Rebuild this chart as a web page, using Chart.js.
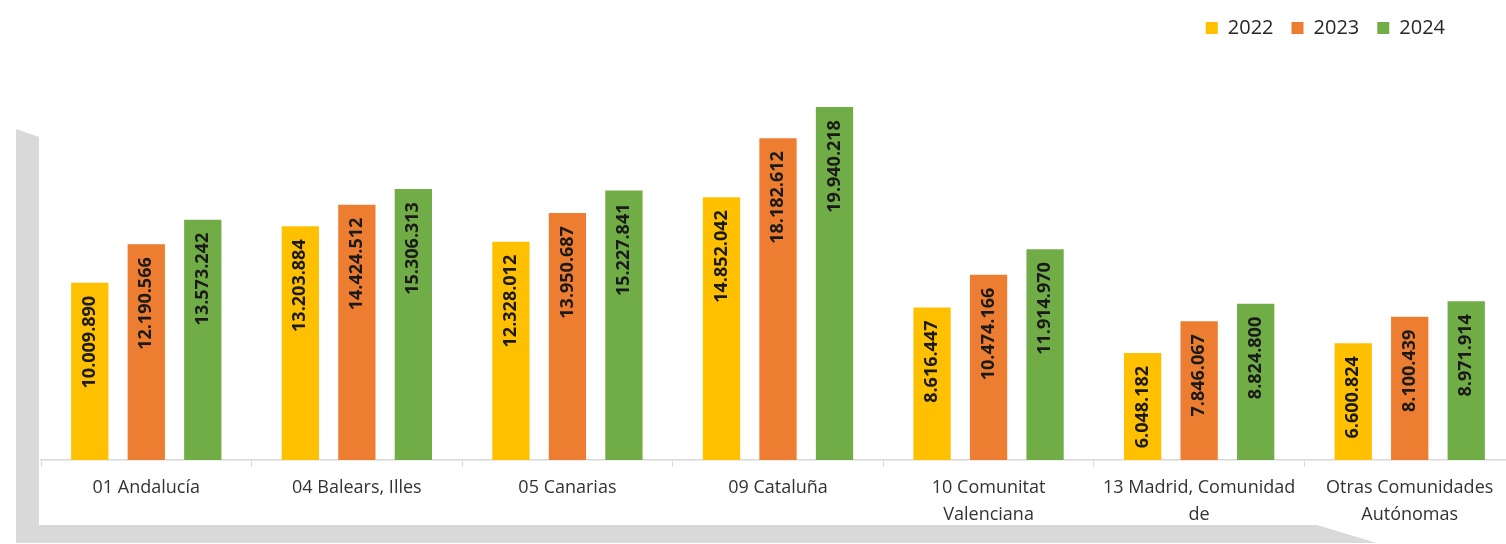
<!DOCTYPE html>
<html>
<head>
<meta charset="utf-8">
<script src="https://cdn.jsdelivr.net/npm/chart.js@4"></script>
<style>
  html, body { margin: 0; padding: 0; background: #ffffff; overflow: hidden; }
  #wrap { position: relative; width: 1506px; height: 544px; overflow: hidden; }
  #frame { position: absolute; left: 0; top: 0; width: 1506px; height: 544px; background: #d9d9d9;
    clip-path: polygon(16px 129px, 39px 137px, 39px 525px, 1317px 525px, 1377px 543px, 16px 543px); }
  #cv { position: absolute; left: 0; top: 0; }
</style>
</head>
<body>
<div id="wrap">
  <div id="frame"></div>
  <canvas id="cv" width="1516" height="544" style="width:1516px;height:544px;"></canvas>
</div>
<script>
const categories = [
  "01 Andalucía",
  "04 Balears, Illes",
  "05 Canarias",
  "09 Cataluña",
  ["10 Comunitat", "Valenciana"],
  ["13 Madrid, Comunidad", "de"],
  ["Otras Comunidades", "Autónomas"]
];
const seriesNames = ["2022", "2023", "2024"];
const values2022 = [10009890, 13203884, 12328012, 14852042, 8616447, 6048182, 6600824];
const values2023 = [12190566, 14424512, 13950687, 18182612, 10474166, 7846067, 8100439];
const values2024 = [13573242, 15306313, 15227841, 19940218, 11914970, 8824800, 8971914];
const seriesColors = ["#FFC000", "#ED7D31", "#70AD47"];
const Y_MAX = 23280000;

function fmt(v) {
  return String(Math.round(v)).replace(/\B(?=(\d{3})+(?!\d))/g, ".");
}

const valueLabels = {
  id: 'valueLabels',
  afterDatasetsDraw(chart) {
    const ctx = chart.ctx;
    ctx.save();
    ctx.font = "bold 18px 'Open Sans', 'Liberation Sans', sans-serif";
    ctx.fillStyle = "#1a1a1a";
    ctx.textAlign = "right";
    ctx.textBaseline = "middle";
    chart.data.datasets.forEach((ds, di) => {
      const meta = chart.getDatasetMeta(di);
      meta.data.forEach((el, i) => {
        ctx.save();
        ctx.translate(el.x, el.y + 13);
        ctx.rotate(-Math.PI / 2);
        ctx.fillText(fmt(ds.data[i]), 0, 0);
        ctx.restore();
      });
    });
    ctx.restore();
  }
};

const legendShift = {
  id: 'legendShift',
  afterLayout(chart) {
    if (chart.legend) { chart.legend.right -= 52; }
  }
};

new Chart(document.getElementById('cv'), {
  type: 'bar',
  data: {
    labels: categories,
    datasets: [
      { label: seriesNames[0], data: values2022, backgroundColor: seriesColors[0] },
      { label: seriesNames[1], data: values2023, backgroundColor: seriesColors[1] },
      { label: seriesNames[2], data: values2024, backgroundColor: seriesColors[2] }
    ]
  },
  options: {
    responsive: false,
    animation: false,
    devicePixelRatio: 1,
    layout: { padding: { left: 41, right: 1, top: 0, bottom: 9 } },
    datasets: { bar: { categoryPercentage: 0.805, barPercentage: 0.66 } },
    plugins: {
      legend: {
        position: 'top',
        align: 'end',
        labels: {
          boxWidth: 12, boxHeight: 12, padding: 18,
          color: '#262626',
          font: { family: "'Open Sans', 'Liberation Sans', sans-serif", size: 20 }
        }
      },
      tooltip: { enabled: false }
    },
    scales: {
      x: {
        grid: { display: true, drawOnChartArea: false, drawTicks: true, tickLength: 7, color: '#d9d9d9', offset: true },
        border: { display: true, color: '#d9d9d9', width: 1.5 },
        ticks: {
          color: '#333333', padding: 7, maxRotation: 0, autoSkip: false,
          font: { family: "'Open Sans', 'Liberation Sans', sans-serif", size: 18, lineHeight: 1.5 }
        }
      },
      y: { display: false, min: 0, max: Y_MAX }
    }
  },
  plugins: [valueLabels, legendShift]
});
</script>
</body>
</html>
